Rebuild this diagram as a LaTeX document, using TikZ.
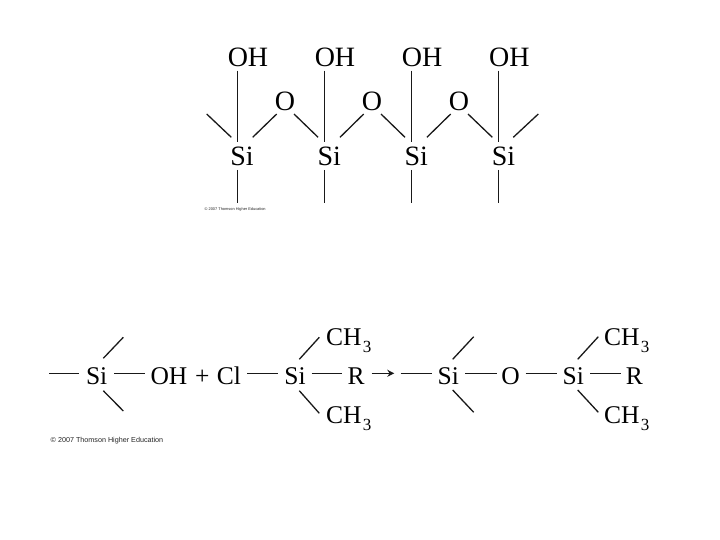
\documentclass[tikz,border=0pt]{standalone}
\usepackage{fontspec}
\setmainfont{Liberation Serif}
\newfontfamily\credit{Liberation Sans}
\usetikzlibrary{arrows.meta}
\newcommand{\subthree}{\kern0.05em\raisebox{-0.28em}{\fontsize{17}{18}\selectfont 3}}
\tikzset{
  topatom/.style={inner sep=0pt,anchor=base,font=\fontsize{28}{30}\selectfont,text=black},
  atom/.style={inner sep=0pt,anchor=base,font=\fontsize{25.5}{28}\selectfont,text=black},
  group/.style={atom,anchor=base west},
  bond/.style={line width=1.3pt,draw=black!90},
  rxn/.style={line width=1.3pt,draw=black!90,-{Stealth[length=7pt,width=7pt]}},
  creditlabel/.style={inner sep=0pt,anchor=base west,text=black!85}
}
\begin{document}
\begin{tikzpicture}[x=1pt,y=-1pt]
\path[fill=white] (0,0) rectangle (720,540);
\useasboundingbox (0,0) rectangle (720,540);
% --- upper chain
\foreach \i/\xs/\xo in {1/242/248,2/329.3/335,3/416.2/422,4/503.5/509.3}{
  \node[topatom] (si\i) at (\xs,166) {Si};
  \node[topatom] (oh\i) at (\xo,67) {OH};
  \coordinate (low\i) at ([shift={(-4.7,37)}]si\i.base);
  \draw[bond] ([shift={(\xs-\xo-4.7,3.7)}]oh\i.base) -- ([shift={(-4.7,-24.3)}]si\i.base);
  \draw[bond] ([shift={(-4.7,4)}]si\i.base) -- (low\i);
}
\foreach \i/\xo in {1/285,2/372,3/459}{
  \node[topatom] (ox\i) at (\xo,111) {O};
}
\foreach \i/\j in {1/2,2/3,3/4}{
  \draw[bond] ([shift={(10.7,-28.7)}]si\i.base) -- ([shift={(-8.3,3)}]ox\i.base);
  \draw[bond] ([shift={(9,3)}]ox\i.base) -- ([shift={(-11.2,-28.7)}]si\j.base);
}
\coordinate (endl) at ([shift={(-35.3,-52)}]si1.base);
\coordinate (endr) at ([shift={(34.8,-52)}]si4.base);
\draw[bond] (endl) -- ([shift={(-10.7,-28.7)}]si1.base);
\draw[bond] ([shift={(9.8,-28.7)}]si4.base) -- (endr);
\node[creditlabel,font=\credit\fontsize{3.9}{5}\selectfont] (credita) at (204.5,210.2) {© 2007 Thomson Higher Education};
% --- lower reaction
\node[atom] (sa) at (96.7,384) {Si};
\node[atom] (oh) at (169,384) {OH};
\node[atom] (plus) at (202.3,384) {+};
\node[atom] (cl) at (229,384) {Cl};
\node[atom] (sb) at (295,384) {Si};
\node[atom] (ra) at (356,384) {R};
\node[group] (cha) at (326,345) {CH\subthree};
\node[group] (chb) at (326,423.5) {CH\subthree};
\node[atom] (sc) at (448.3,384) {Si};
\node[atom] (ob) at (510.7,384) {O};
\node[atom] (sd) at (573.3,384) {Si};
\node[atom] (rb) at (634.3,384) {R};
\node[group] (chc) at (604,345) {CH\subthree};
\node[group] (chd) at (604,423.5) {CH\subthree};
\coordinate (fa) at ([shift={(-47.4,-10.7)}]sa.base);
\coordinate (fb) at ([shift={(26.6,-46.7)}]sa.base);
\coordinate (fc) at ([shift={(26.6,27)}]sa.base);
\coordinate (fd) at ([shift={(-47.6,-10.7)}]sc.base);
\coordinate (fe) at ([shift={(25.4,-47.3)}]sc.base);
\coordinate (ff) at ([shift={(25.4,28.3)}]sc.base);
\draw[bond] (fa) -- ([shift={(-17.4,-10.7)}]sa.base);
\draw[bond] ([shift={(6.6,-25.7)}]sa.base) -- (fb);
\draw[bond] ([shift={(6.6,6.7)}]sa.base) -- (fc);
\draw[bond] ([shift={(17.3,-10.7)}]sa.base) -- ([shift={(-24,-10.7)}]oh.base);
\draw[bond] ([shift={(18.3,-10.7)}]cl.base) -- ([shift={(-16.7,-10.7)}]sb.base);
\draw[bond] ([shift={(4.3,-24.7)}]sb.base) -- ([shift={(-6.7,-7.7)}]cha.base west);
\draw[bond] ([shift={(4.3,6.7)}]sb.base) -- ([shift={(-6.7,-10.2)}]chb.base west);
\draw[bond] ([shift={(16.7,-10.7)}]sb.base) -- ([shift={(-14.3,-10.7)}]ra.base);
\draw[rxn] ([shift={(15.7,-10.7)}]ra.base) -- ([shift={(-54,-10.7)}]sc.base);
\draw[bond] (fd) -- ([shift={(-16,-10.7)}]sc.base);
\draw[bond] ([shift={(4.4,-24.7)}]sc.base) -- (fe);
\draw[bond] ([shift={(4.4,6)}]sc.base) -- (ff);
\draw[bond] ([shift={(16.7,-10.7)}]sc.base) -- ([shift={(-14,-10.7)}]ob.base);
\draw[bond] ([shift={(15,-10.7)}]ob.base) -- ([shift={(-16.6,-10.7)}]sd.base);
\draw[bond] ([shift={(4.4,-24.7)}]sd.base) -- ([shift={(-5.7,-8.3)}]chc.base west);
\draw[bond] ([shift={(4.4,6)}]sd.base) -- ([shift={(-5.7,-11.2)}]chd.base west);
\draw[bond] ([shift={(16.7,-10.7)}]sd.base) -- ([shift={(-13.6,-10.7)}]rb.base);
\node[creditlabel,font=\credit\fontsize{7.2}{9}\selectfont] (creditb) at (50.5,442.5) {© 2007 Thomson Higher Education};
\end{tikzpicture}
\end{document}
